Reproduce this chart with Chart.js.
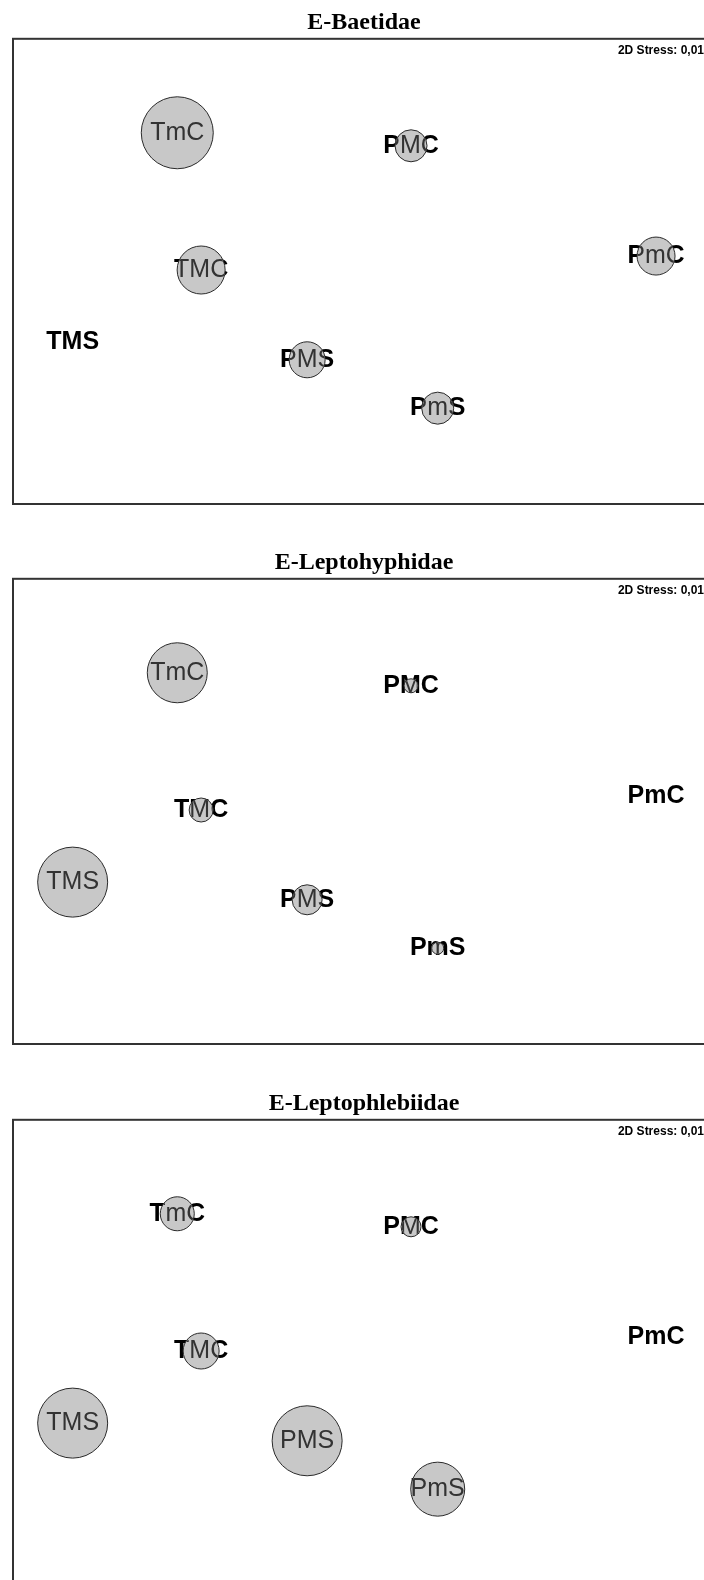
<!DOCTYPE html>
<html>
<head>
<meta charset="utf-8">
<title>nMDS - Ephemeroptera</title>
<script src="https://cdn.jsdelivr.net/npm/chart.js@4.4.1/dist/chart.umd.min.js"></script>
<style>
  html, body { margin: 0; padding: 0; background: #fff; overflow: hidden; }
  body { width: 704px; height: 1580px; position: relative; }
  canvas { position: absolute; left: 0; }
</style>
</head>
<body>
<canvas id="panel0" width="728" height="525" style="top:0px"></canvas>
<canvas id="panel1" width="728" height="525" style="top:540px"></canvas>
<canvas id="panel2" width="728" height="525" style="top:1081px"></canvas>

<script>
// sites (same nMDS ordination in all three panels)
const sites = ["TmC", "PMC", "PmC", "TMC", "TMS", "PMS", "PmS"];
const axis1 = [23.4, 56.7, 91.6, 26.8, 8.5, 41.9, 60.5];
const axis2 = [79.8, 77.0, 53.3, 50.3, 34.8, 31.0, 20.6];

// bubble radius per site, one list per family
const baetidae = [36, 16, 19, 24, 0, 18, 16];
const leptohyphidae = [30, 7, 0, 12, 35, 15, 6];
const leptophlebiidae = [17, 10, 0, 18, 35, 35, 27];

const titles = ["E-Baetidae", "E-Leptohyphidae", "E-Leptophlebiidae"];
const sizes = [baetidae, leptohyphidae, leptophlebiidae];
const stress = "2D Stress: 0,01";

const sansFont = "'Liberation Sans', Arial, sans-serif";

// frame + stress text + site labels (bold under the bubble, plain inside it)
const nmdsPlugin = {
  id: "nmds",
  beforeDatasetsDraw(chart) {
    const ctx = chart.ctx;
    const a = chart.chartArea;
    ctx.save();
    ctx.strokeStyle = "#333";
    ctx.lineWidth = 2;
    ctx.strokeRect(a.left, a.top, a.right - a.left, a.bottom - a.top);

    ctx.fillStyle = "#000";
    ctx.font = "bold 12px " + sansFont;
    ctx.textAlign = "right";
    ctx.textBaseline = "middle";
    ctx.fillText(stress, a.right - 11, a.top + 12);

    ctx.font = "bold 25px " + sansFont;
    ctx.textAlign = "center";
    const meta = chart.getDatasetMeta(0);
    meta.data.forEach((pt, i) => {
      ctx.fillText(sites[i], pt.x, pt.y);
    });
    ctx.restore();
  },
  afterDatasetsDraw(chart) {
    const ctx = chart.ctx;
    const meta = chart.getDatasetMeta(0);
    const ds = chart.data.datasets[0].data;
    meta.data.forEach((pt, i) => {
      const r = ds[i].r;
      if (!r) return;
      ctx.save();
      ctx.beginPath();
      ctx.arc(pt.x, pt.y, r - 0.5, 0, Math.PI * 2);
      ctx.clip();
      ctx.fillStyle = "#333";
      ctx.font = "25px " + sansFont;
      ctx.textAlign = "center";
      ctx.textBaseline = "middle";
      ctx.fillText(sites[i], pt.x, pt.y);
      ctx.restore();
    });
  }
};

titles.forEach((title, k) => {
  const ctx = document.getElementById("panel" + k).getContext("2d");
  new Chart(ctx, {
    type: "bubble",
    data: {
      datasets: [{
        label: title,
        data: sites.map((s, i) => ({ x: axis1[i], y: axis2[i], r: sizes[k][i] })),
        backgroundColor: "#c8c8c8",
        borderColor: "#2a2a2a",
        borderWidth: 1,
        clip: false
      }]
    },
    options: {
      responsive: false,
      animation: false,
      events: [],
      layout: { autoPadding: false, padding: { left: 13, right: 13, top: 0, bottom: 21 } },
      plugins: {
        legend: { display: false },
        tooltip: { enabled: false },
        title: {
          display: true,
          text: title,
          color: "#000",
          font: { family: "'Liberation Serif', 'Times New Roman', serif", size: 24, weight: "bold", lineHeight: 1.2 },
          padding: { top: 8, bottom: 2 }
        }
      },
      scales: {
        x: { type: "linear", min: 0, max: 100, display: false },
        y: { type: "linear", min: 0, max: 100, display: false }
      }
    },
    plugins: [nmdsPlugin]
  });
});
</script>
</body>
</html>
